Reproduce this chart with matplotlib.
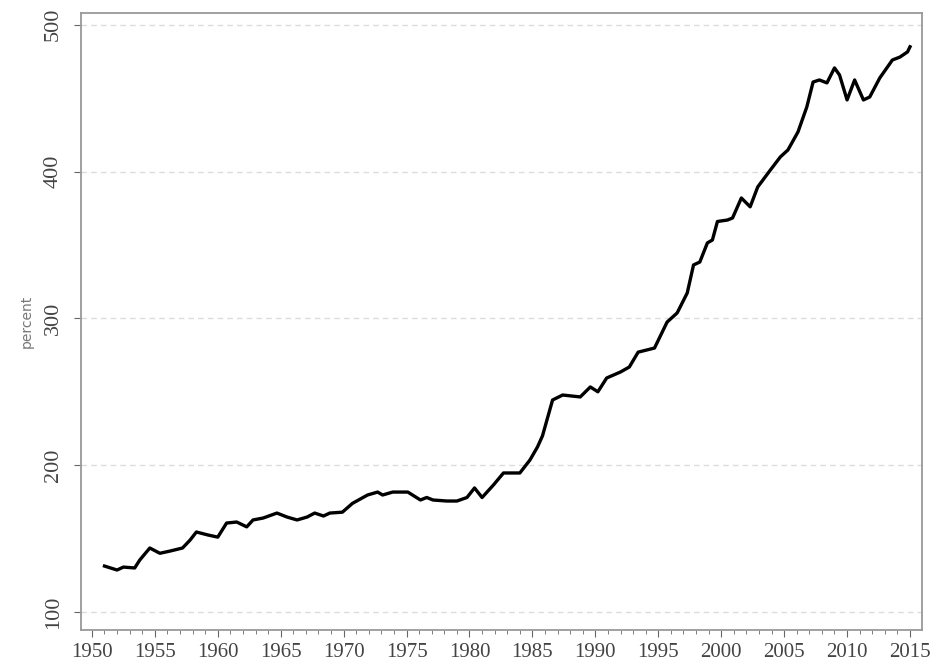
import matplotlib
matplotlib.use("Agg")
import matplotlib.pyplot as plt
from matplotlib.ticker import MultipleLocator

# Values (year, percent)
years = [1951.0, 1952.0, 1952.5, 1953.4, 1953.8, 1954.6, 1955.4, 1956.2, 1957.2,
         1957.8, 1958.3, 1959.2, 1960.0, 1960.7, 1961.5, 1962.3, 1962.8, 1963.6,
         1964.7, 1965.5, 1966.3, 1967.1, 1967.7, 1968.4, 1968.9, 1969.9, 1970.7,
         1971.9, 1972.7, 1973.1, 1973.9, 1975.1, 1976.1, 1976.6, 1977.1, 1978.2,
         1979.0, 1979.8, 1980.4, 1981.0, 1981.9, 1982.7, 1984.0, 1984.8, 1985.4,
         1985.8, 1986.6, 1987.4, 1988.8, 1989.6, 1990.2, 1990.9, 1992.0, 1992.7,
         1993.4, 1994.7, 1995.7, 1996.5, 1997.3, 1997.8, 1998.3, 1998.9, 1999.3,
         1999.7, 2000.5, 2000.9, 2001.6, 2002.3, 2002.9, 2003.9, 2004.7, 2005.3,
         2006.1, 2006.8, 2007.3, 2007.8, 2008.4, 2009.0, 2009.4, 2010.0, 2010.6,
         2011.3, 2011.8, 2012.6, 2013.6, 2014.2, 2014.8, 2015.0]
percent = [131.3, 128.6, 130.6, 130.0, 135.4, 143.6, 140.0, 141.5, 143.6,
           149.0, 154.5, 152.5, 151.0, 160.6, 161.3, 158.0, 162.7, 164.0,
           167.4, 164.7, 162.7, 164.7, 167.4, 165.4, 167.4, 168.0, 174.0,
           179.7, 181.7, 179.7, 181.7, 181.7, 176.3, 178.0, 176.3, 175.6,
           175.6, 178.0, 184.5, 178.0, 186.5, 194.7, 194.7, 203.5, 212.4,
           220.0, 244.4, 247.8, 246.5, 253.3, 250.0, 259.4, 263.5, 266.9,
           277.0, 279.8, 297.5, 303.7, 317.3, 336.4, 338.4, 351.4, 353.4,
           366.0, 367.0, 368.4, 382.0, 376.0, 389.5, 401.0, 410.0, 414.7,
           427.0, 444.0, 461.0, 462.4, 460.4, 470.6, 465.8, 448.8, 462.4,
           448.8, 450.8, 463.8, 476.0, 478.0, 481.5, 485.0]

x_ticks = list(range(1950, 2016, 5))
y_ticks = [100, 200, 300, 400, 500]

fig = plt.figure(figsize=(9.36, 6.71), dpi=100)
ax = fig.add_axes([0.0865, 0.061, 0.8985, 0.9196])

for v in y_ticks:
    ax.axhline(v, color="#dcdcdc", linestyle=(0, (4, 3)), linewidth=1.0, zorder=0)

ax.plot(years, percent, color="black", linewidth=2.4)

ax.set_xlim(1949.13, 2015.95)
ax.set_ylim(87.7, 508)

ax.set_xticks(x_ticks)
ax.xaxis.set_minor_locator(MultipleLocator(1))
ax.set_yticks(y_ticks)

ax.set_xticklabels([str(t) for t in x_ticks], family="Liberation Serif",
                   size=15, color="#444444")
ax.set_yticklabels([str(t) for t in y_ticks], rotation=90, va="center",
                   family="Liberation Serif", size=16, color="#444444")
ax.tick_params(axis="x", which="major", length=5, color="#666666", pad=4)
ax.tick_params(axis="y", which="major", length=5, color="#666666", pad=8)
ax.tick_params(axis="x", which="minor", length=3, color="#666666")

ax.set_ylabel("percent", fontsize=10, color="#777777")
ax.yaxis.set_label_coords(-0.056, 0.5)

for s in ax.spines.values():
    s.set_color("#999999")
    s.set_linewidth(1.3)

fig.savefig("out.png", dpi=100)
